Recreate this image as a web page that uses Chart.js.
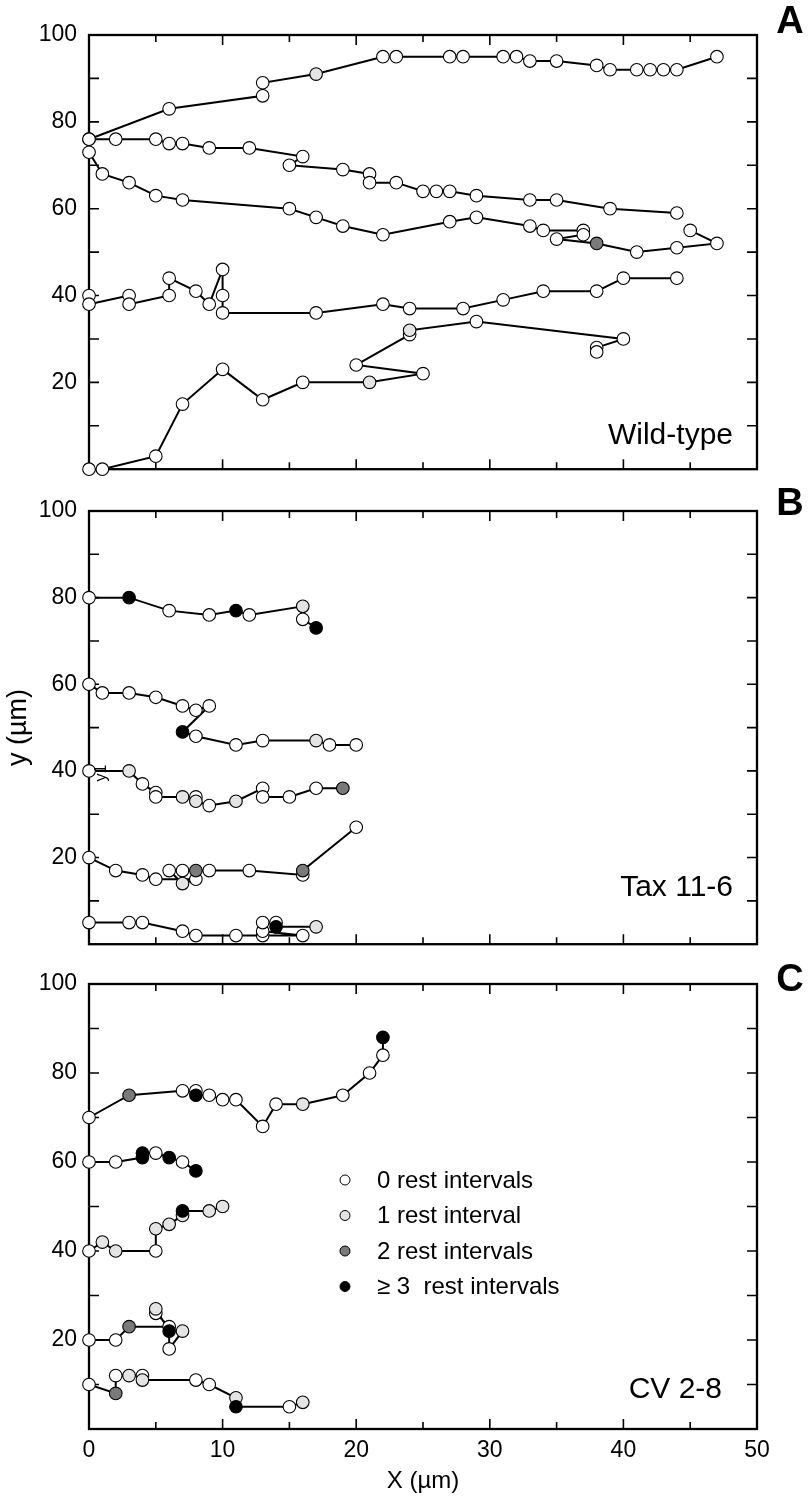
<!DOCTYPE html>
<html>
<head>
<meta charset="utf-8">
<script src="https://cdn.jsdelivr.net/npm/chart.js@4.4.0/dist/chart.umd.min.js"></script>
<style>
  html, body { margin: 0; padding: 0; background: #fff; }
  #wrap { position: relative; width: 810px; height: 1504px; }
  canvas { position: absolute; left: 0; }
</style>
</head>
<body>
<div id="wrap">
  <canvas id="chartA" width="810" height="495" style="top:0px"></canvas>
  <canvas id="chartB" width="810" height="500" style="top:470px"></canvas>
  <canvas id="chartC" width="810" height="559" style="top:945px"></canvas>
</div>
<script>
// tick labels
const xTickValues = [0, 10, 20, 30, 40, 50];
const yTickValues = [20, 40, 60, 80, 100];

// rest categories
const restColors = ['#ffffff', '#e4e4e4', '#7a7a7a', '#000000'];
const restLabels = ['0 rest intervals', '1 rest interval', '2 rest intervals', '\u2265 3  rest intervals'];

const panelLetters = ['A', 'B', 'C'];
const panelNames = ['Wild-type', 'Tax 11-6', 'CV 2-8'];

// panel A - wild-type tracks (x, y, rest count)
const a1x = [0, 6, 13, 13, 17, 22, 23, 27, 28, 31, 32, 33, 35, 38, 39, 41, 42, 43, 44, 47];
const a1y = [76, 83, 86, 89, 91, 95, 95, 95, 95, 95, 95, 94, 94, 93, 92, 92, 92, 92, 92, 95];
const a1r = [0, 0, 0, 0, 1, 0, 0, 0, 0, 0, 0, 0, 0, 0, 0, 0, 0, 0, 0, 0];

const a2x = [0, 2, 5, 6, 7, 9, 12, 16, 15, 19, 21, 21, 23, 25, 26, 27, 29, 33, 35, 39, 44];
const a2y = [76, 76, 76, 75, 75, 74, 74, 72, 70, 69, 68, 66, 66, 64, 64, 64, 63, 62, 62, 60, 59];
const a2r = [0, 0, 0, 0, 0, 0, 0, 0, 0, 0, 0, 0, 0, 0, 0, 0, 0, 0, 0, 0, 0];

const a3x = [0, 1, 3, 5, 7, 15, 17, 19, 22, 27, 29, 33, 34, 37, 37, 35, 38, 41, 44, 47, 45];
const a3y = [73, 68, 66, 63, 62, 60, 58, 56, 54, 57, 58, 56, 55, 55, 54, 53, 52, 50, 51, 52, 55];
const a3r = [0, 0, 0, 0, 0, 0, 0, 0, 0, 0, 0, 0, 0, 0, 0, 0, 2, 0, 0, 0, 0];

const a4x = [0, 0, 3, 3, 6, 6, 8, 9, 10, 10, 10, 17, 22, 24, 28, 31, 34, 38, 40, 44];
const a4y = [40, 38, 40, 38, 40, 44, 41, 38, 46, 40, 36, 36, 38, 37, 37, 39, 41, 41, 44, 44];
const a4r = [0, 0, 0, 0, 0, 0, 0, 0, 0, 0, 0, 0, 0, 0, 0, 0, 0, 0, 0, 0];

const a5x = [0, 1, 5, 7, 10, 13, 16, 21, 25, 20, 24, 24, 29, 40, 38, 38];
const a5y = [0, 0, 3, 15, 23, 16, 20, 20, 22, 24, 31, 32, 34, 30, 28, 27];
const a5r = [0, 0, 0, 0, 0, 0, 0, 1, 0, 0, 0, 1, 0, 0, 0, 0];

// panel B - Tax 11-6
const b1x = [0, 3, 6, 9, 11, 12, 16, 16, 17];
const b1y = [80, 80, 77, 76, 77, 76, 78, 75, 73];
const b1r = [0, 3, 0, 0, 3, 0, 1, 0, 3];

const b2x = [0, 1, 3, 5, 7, 8, 9, 7, 8, 11, 13, 17, 18, 20];
const b2y = [60, 58, 58, 57, 55, 54, 55, 49, 48, 46, 47, 47, 46, 46];
const b2r = [0, 0, 0, 0, 0, 0, 0, 3, 0, 0, 0, 1, 0, 0];

const b3x = [0, 3, 4, 5, 5, 7, 8, 8, 9, 11, 13, 13, 15, 17, 19];
const b3y = [40, 40, 37, 35, 34, 34, 34, 33, 32, 33, 36, 34, 34, 36, 36];
const b3r = [0, 1, 0, 0, 0, 1, 0, 1, 0, 1, 0, 0, 0, 0, 2];

const b4x = [0, 2, 4, 5, 8, 7, 6, 7, 8, 9, 12, 16, 16, 20];
const b4y = [20, 17, 16, 15, 15, 14, 17, 17, 17, 17, 17, 16, 17, 27];
const b4r = [0, 0, 0, 0, 0, 1, 0, 0, 2, 0, 0, 0, 2, 0];

const b5x = [0, 3, 4, 7, 8, 11, 13, 16, 13, 13, 14, 14, 17];
const b5y = [5, 5, 5, 3, 2, 2, 2, 2, 3, 5, 5, 4, 4];
const b5r = [0, 0, 0, 0, 0, 0, 0, 0, 0, 0, 0, 3, 1];

// panel C - CV 2-8
const c1x = [0, 3, 7, 8, 8, 9, 10, 11, 13, 14, 16, 19, 21, 22, 22];
const c1y = [70, 75, 76, 76, 75, 75, 74, 74, 68, 73, 73, 75, 80, 84, 88];
const c1r = [0, 2, 0, 0, 3, 0, 0, 0, 0, 0, 1, 0, 0, 0, 3];

const c2x = [0, 2, 4, 4, 5, 6, 7, 8];
const c2y = [60, 60, 61, 62, 62, 61, 60, 58];
const c2r = [0, 0, 3, 3, 0, 3, 0, 3];

const c3x = [0, 1, 2, 5, 5, 6, 7, 7, 9, 10];
const c3y = [40, 42, 40, 40, 45, 46, 48, 49, 49, 50];
const c3r = [0, 1, 1, 0, 1, 1, 1, 3, 1, 1];

const c4x = [0, 2, 3, 6, 5, 5, 6, 6, 7];
const c4y = [20, 20, 23, 23, 26, 27, 22, 18, 22];
const c4r = [0, 0, 2, 0, 0, 1, 3, 0, 1];

const c5x = [0, 2, 2, 3, 4, 4, 8, 9, 11, 11, 15, 16];
const c5y = [10, 8, 12, 12, 12, 11, 11, 10, 7, 5, 5, 6];
const c5r = [0, 2, 0, 1, 0, 1, 0, 0, 1, 3, 0, 1];

const FONT = "'Liberation Sans', Arial, Helvetica, sans-serif";

function track(xs, ys, rs) {
    return {
        data: xs.map((v, i) => ({x: v, y: ys[i]})),
        showLine: true,
        borderColor: '#000',
        borderWidth: 2,
        pointRadius: 6.3,
        pointBorderWidth: 1.1,
        pointBorderColor: '#000',
        pointBackgroundColor: rs.map(r => restColors[r]),
        clip: false,
    };
}

// frame, inward ticks and panel texts
const panelPlugin = {
    id: 'panel',
    beforeDatasetsDraw(chart, args, o) {
        const {ctx, chartArea: a, scales: {x, y}} = chart;
        ctx.save();
        ctx.strokeStyle = '#000';
        ctx.lineWidth = 2.3;
        ctx.strokeRect(a.left, a.top, a.right - a.left, a.bottom - a.top);
        ctx.lineWidth = 1.6;
        ctx.beginPath();
        for (let v = 5; v < 50; v += 5) {
            const px = x.getPixelForValue(v);
            const len = v % 10 ? 7 : 10;
            ctx.moveTo(px, a.bottom); ctx.lineTo(px, a.bottom - len);
            ctx.moveTo(px, a.top); ctx.lineTo(px, a.top + len);
        }
        for (let v = 10; v < 100; v += 10) {
            const py = y.getPixelForValue(v);
            ctx.moveTo(a.left, py); ctx.lineTo(a.left + 10, py);
            ctx.moveTo(a.right, py); ctx.lineTo(a.right - 10, py);
        }
        ctx.stroke();
        ctx.restore();
    },
    afterDraw(chart, args, o) {
        const ctx = chart.ctx;
        ctx.save();
        ctx.fillStyle = '#000';
        ctx.font = 'bold 38px ' + FONT;
        ctx.textAlign = 'center';
        ctx.textBaseline = 'alphabetic';
        ctx.fillText(o.letter, 790, o.letterY);
        ctx.font = '30px ' + FONT;
        ctx.textAlign = 'right';
        ctx.fillText(o.name, o.nameX, o.nameY);
        if (o.legend) {
            ctx.textAlign = 'left';
            ctx.textBaseline = 'middle';
            ctx.font = '24px ' + FONT;
            restLabels.forEach((lab, i) => {
                const ly = o.legendY + i * 35.5;
                ctx.beginPath();
                ctx.arc(345, ly, 5, 0, Math.PI * 2);
                ctx.fillStyle = restColors[i];
                ctx.fill();
                ctx.lineWidth = 1;
                ctx.strokeStyle = '#000';
                ctx.stroke();
                ctx.fillStyle = '#000';
                ctx.fillText(lab, 377, ly + 1);
            });
        }
        if (o.stray) {
            ctx.translate(102, o.stray);
            ctx.rotate(-Math.PI / 2);
            ctx.font = '16px ' + FONT;
            ctx.textAlign = 'center';
            ctx.textBaseline = 'middle';
            ctx.fillText('y1', 0, 0);
        }
        ctx.restore();
    }
};

function makePanel(id, tracks, cfg) {
    return new Chart(document.getElementById(id), {
        type: 'scatter',
        data: {datasets: tracks.map(t => track(t[0], t[1], t[2]))},
        options: {
            responsive: false,
            animation: false,
            devicePixelRatio: 1,
            events: [],
            layout: {padding: {top: cfg.padTop, right: 53, left: 0, bottom: 0}},
            plugins: {
                legend: {display: false},
                tooltip: {enabled: false},
                panel: cfg,
            },
            scales: {
                x: {
                    type: 'linear',
                    min: 0,
                    max: 50,
                    grid: {display: false, drawTicks: false},
                    border: {display: false},
                    ticks: {display: cfg.showX, padding: 8, color: '#000', font: {size: 23, family: FONT}},
                    afterBuildTicks: s => { s.ticks = xTickValues.map(v => ({value: v})); },
                    title: {display: cfg.showX, text: 'X (\u00b5m)', color: '#000',
                        font: {size: 24, family: FONT}, padding: {top: 0, bottom: 8}},
                    afterFit: s => { s.height = cfg.xh; },
                },
                y: {
                    type: 'linear',
                    min: 0,
                    max: 100,
                    grid: {display: false, drawTicks: false},
                    border: {display: false},
                    ticks: {padding: 12, color: '#000', font: {size: 23, family: FONT}},
                    afterBuildTicks: s => { s.ticks = yTickValues.map(v => ({value: v})); },
                    title: {display: cfg.showYTitle, text: 'y (\u00b5m)', color: '#000',
                        font: {size: 27, family: FONT}, padding: {top: 2, bottom: 0}},
                    afterFit: s => { s.width = 89; },
                },
            },
        },
        plugins: [panelPlugin],
    });
}

makePanel('chartA', [[a1x, a1y, a1r], [a2x, a2y, a2r], [a3x, a3y, a3r], [a4x, a4y, a4r], [a5x, a5y, a5r]], {
    padTop: 35, xh: 15, showX: false, showYTitle: false,
    letter: panelLetters[0], letterY: 33, name: panelNames[0], nameX: 733, nameY: 444,
});

makePanel('chartB', [[b1x, b1y, b1r], [b2x, b2y, b2r], [b3x, b3y, b3r], [b4x, b4y, b4r], [b5x, b5y, b5r]], {
    padTop: 41, xh: 14, showX: false, showYTitle: true,
    letter: panelLetters[1], letterY: 45, name: panelNames[1], nameX: 733, nameY: 426, stray: 303,
});

makePanel('chartC', [[c1x, c1y, c1r], [c2x, c2y, c2r], [c3x, c3y, c3r], [c4x, c4y, c4r], [c5x, c5y, c5r]], {
    padTop: 39, xh: 75, showX: true, showYTitle: false,
    letter: panelLetters[2], letterY: 46, name: panelNames[2], nameX: 722, nameY: 453,
    legend: true, legendY: 235,
});
</script>
</body>
</html>
